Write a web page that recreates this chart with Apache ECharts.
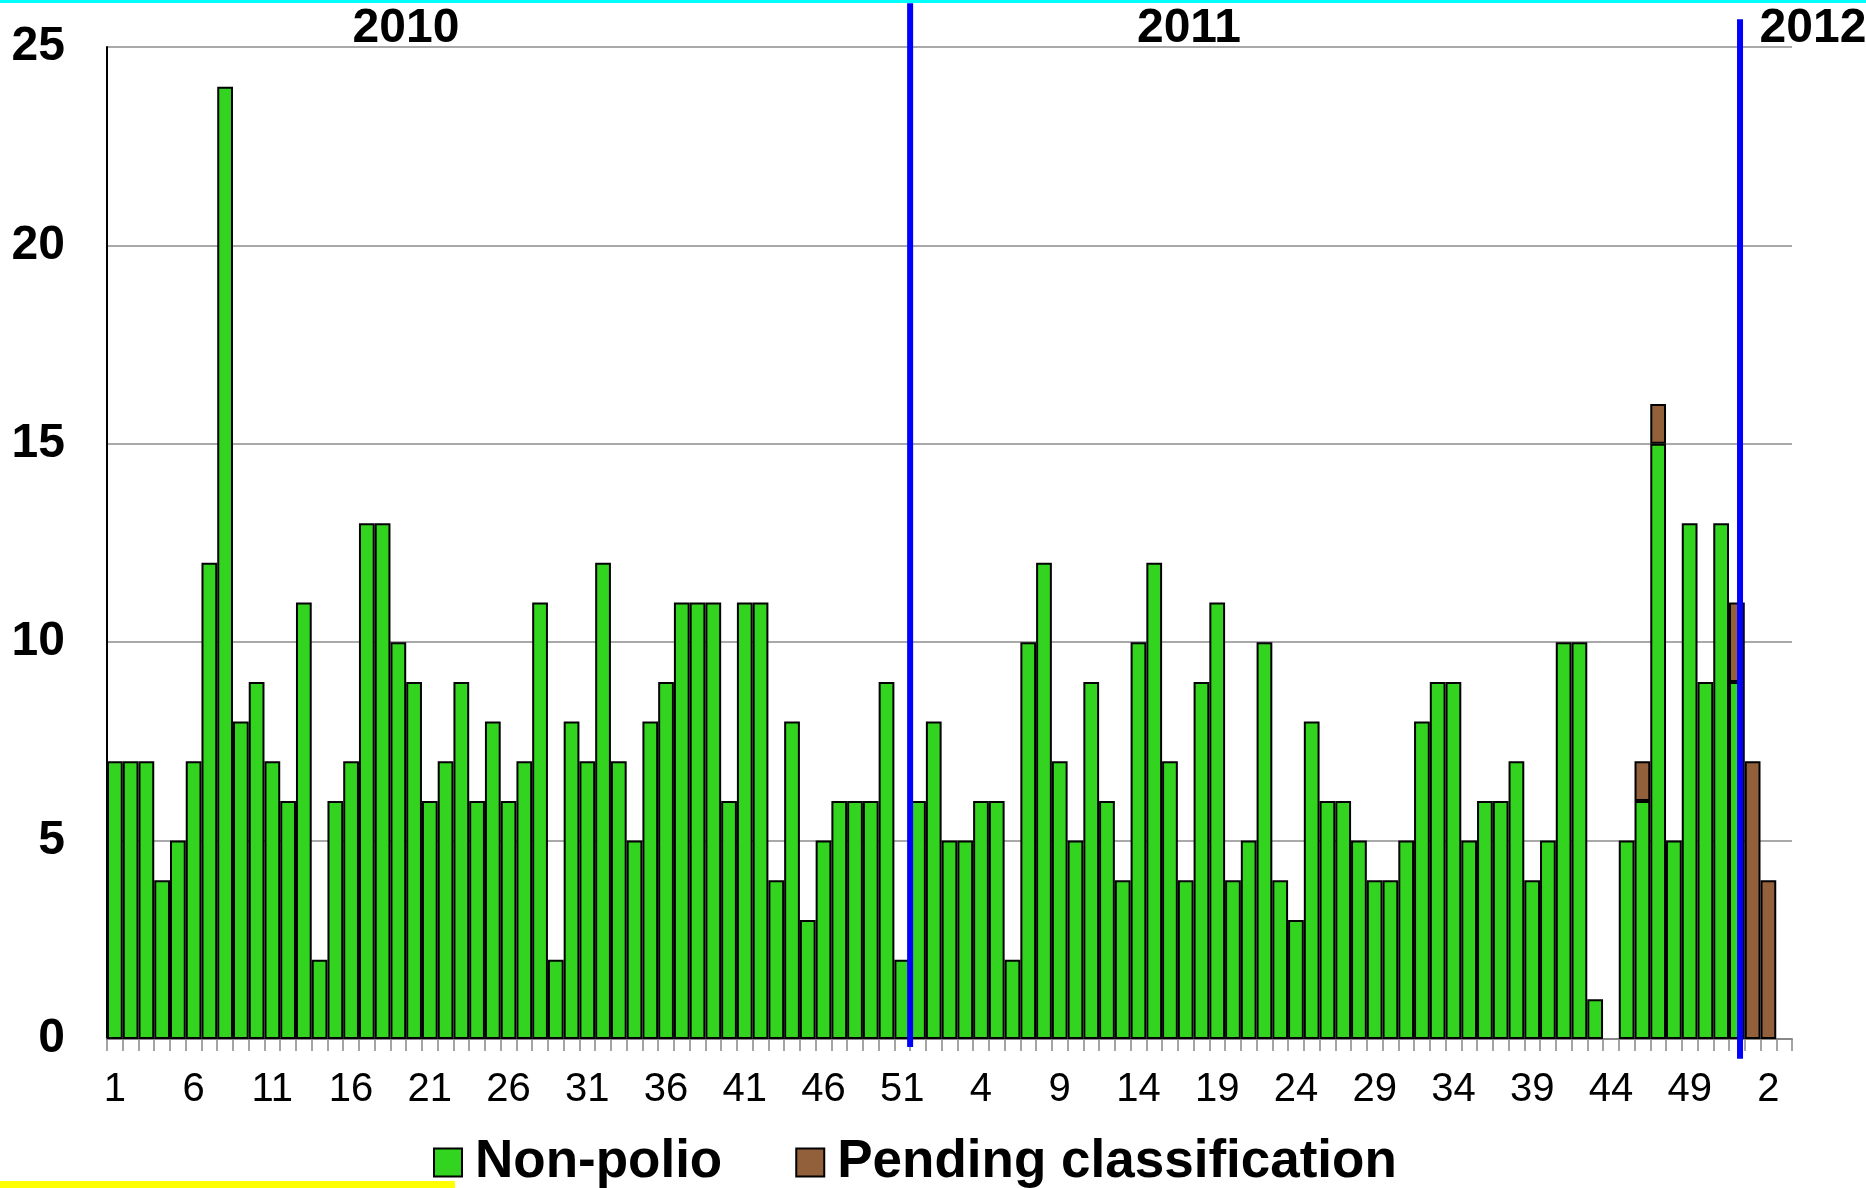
<!DOCTYPE html>
<html>
<head>
<meta charset="utf-8">
<title>Weekly cases 2010-2012</title>
<script src="https://cdn.jsdelivr.net/npm/echarts@6/dist/echarts.min.js"></script>
<style>
html, body { margin: 0; padding: 0; background: #fff; }
#chart { width: 1866px; height: 1188px; }
</style>
</head>
<body>
<div id="chart"></div>
<script>
var FONT = '"Liberation Sans", Arial, sans-serif';

// weekly counts
var nonPolio2010 = [7, 7, 7, 4, 5, 7, 12, 24, 8, 9, 7, 6, 11, 2, 6, 7, 13, 13, 10, 9,
	6, 7, 9, 6, 8, 6, 7, 11, 2, 8, 7, 12, 7, 5, 8, 9, 11, 11, 11, 6,
	11, 11, 4, 8, 3, 5, 6, 6, 6, 9, 2, 6];
var nonPolio2011 = [8, 5, 5, 6, 6, 2, 10, 12, 7, 5, 9, 6, 4, 10, 12, 7, 4, 9, 11, 4,
	5, 10, 4, 3, 8, 6, 6, 5, 4, 4, 5, 8, 9, 9, 5, 6, 6, 7, 4, 5,
	10, 10, 1, 0, 5, 6, 15, 5, 13, 9, 13, 9];
var nonPolio2012 = [0, 0, 0];

var pending2010 = [0, 0, 0, 0, 0, 0, 0, 0, 0, 0, 0, 0, 0, 0, 0, 0, 0, 0, 0, 0,
	0, 0, 0, 0, 0, 0, 0, 0, 0, 0, 0, 0, 0, 0, 0, 0, 0, 0, 0, 0,
	0, 0, 0, 0, 0, 0, 0, 0, 0, 0, 0, 0];
var pending2011 = [0, 0, 0, 0, 0, 0, 0, 0, 0, 0, 0, 0, 0, 0, 0, 0, 0, 0, 0, 0,
	0, 0, 0, 0, 0, 0, 0, 0, 0, 0, 0, 0, 0, 0, 0, 0, 0, 0, 0, 0,
	0, 0, 0, 0, 0, 1, 1, 0, 0, 0, 0, 2];
var pending2012 = [7, 4, 0];

var yearWeeks = [52, 52, 3];   // weeks on the axis for 2010, 2011, 2012
var yearNames = ['2010', '2011', '2012'];
// year dividers: [category boundary, bottom value, top value]
var yearDividers = [[51, -0.2, 26.1], [103.7, -0.5, 25.7]];

/*category labels: week numbers of each year*/
var weeks = [];
for (var y = 0; y < yearWeeks.length; y++) {
	for (var w = 1; w <= yearWeeks[y]; w++) {
		weeks.push(String(w));
	}
}

// 0 -> no bar drawn
function toBars(arr) {
	return arr.map(function (v) { return v === 0 ? null : v; });
}
var nonPolio = toBars(nonPolio2010.concat(nonPolio2011, nonPolio2012));
var pending = toBars(pending2010.concat(pending2011, pending2012));

var chart = echarts.init(document.getElementById('chart'));
var option = {
	animation: false,
	backgroundColor: '#fff',
	grid: {
		left: 107,
		right: 74,
		top: 47,
		bottom: 149,
		containLabel: false
	},
	legend: {
		data: ['Non-polio', 'Pending classification'],
		left: 433,
		top: 1136,
		padding: 0,
		icon: 'rect',
		itemWidth: 28,
		itemHeight: 28,
		itemGap: 73,
		itemStyle: {
			borderColor: '#000',
			borderWidth: 2
		},
		textStyle: {
			fontFamily: FONT,
			fontWeight: 'bold',
			fontSize: 53,
			color: '#000',
			padding: [0, 0, 0, 8]
		}
	},
	xAxis: [{
		type: 'category',
		data: weeks,
		boundaryGap: true,
		axisLine: {
			lineStyle: {
				color: '#888',
				width: 2
			}
		},
		axisTick: {
			show: true,
			interval: 0,
			length: 12,
			lineStyle: {
				color: '#888',
				width: 1.5
			}
		},
		axisLabel: {
			interval: 4,
			margin: 31,
			fontFamily: FONT,
			fontSize: 40,
			color: '#000'
		},
		splitLine: { show: false }
	}, {
		type: 'value',
		min: 0,
		max: weeks.length,
		show: false
	}],
	yAxis: {
		type: 'value',
		min: 0,
		max: 25,
		interval: 5,
		axisLine: {
			show: true,
			lineStyle: {
				color: '#000',
				width: 2
			}
		},
		axisTick: { show: false },
		axisLabel: {
			margin: 42,
			fontFamily: FONT,
			fontWeight: 'bold',
			fontSize: 48,
			color: '#000'
		},
		splitLine: {
			show: true,
			lineStyle: {
				color: '#8c8c8c',
				width: 1.5
			}
		}
	},
	series: [{
		name: 'Non-polio',
		type: 'bar',
		stack: 'total',
		data: nonPolio,
		barCategoryGap: '0%',
		itemStyle: {
			color: '#33d41f',
			borderColor: '#000',
			borderWidth: 2
		}
	}, {
		name: 'Pending classification',
		type: 'bar',
		stack: 'total',
		data: pending,
		barCategoryGap: '0%',
		itemStyle: {
			color: '#93603c',
			borderColor: '#000',
			borderWidth: 2
		}
	}, {
		type: 'custom',
		xAxisIndex: 1,
		yAxisIndex: 0,
		data: yearDividers,
		encode: { x: 0, y: [1, 2] },
		clip: false,
		z: 10,
		renderItem: function (params, api) {
			var a = api.coord([api.value(0), api.value(1)]);
			var b = api.coord([api.value(0), api.value(2)]);
			return {
				type: 'line',
				shape: { x1: a[0], y1: a[1], x2: b[0], y2: b[1] },
				style: { stroke: '#0000ff', lineWidth: 6 }
			};
		}
	}],
	graphic: [{
		type: 'rect',
		shape: { x: 0, y: 0, width: 1866, height: 3 },
		style: { fill: '#00ffff' }
	}, {
		type: 'rect',
		shape: { x: 0, y: 1181, width: 455, height: 7 },
		style: { fill: '#ffff00' }
	}, {
		type: 'text',
		x: 406, y: 29,
		style: { text: yearNames[0], font: 'bold 48px ' + FONT, fill: '#000', align: 'center', verticalAlign: 'middle' }
	}, {
		type: 'text',
		x: 1189, y: 29,
		style: { text: yearNames[1], font: 'bold 48px ' + FONT, fill: '#000', align: 'center', verticalAlign: 'middle' }
	}, {
		type: 'text',
		x: 1813, y: 29,
		style: { text: yearNames[2], font: 'bold 48px ' + FONT, fill: '#000', align: 'center', verticalAlign: 'middle' }
	}]
};
chart.setOption(option);
</script>
</body>
</html>
